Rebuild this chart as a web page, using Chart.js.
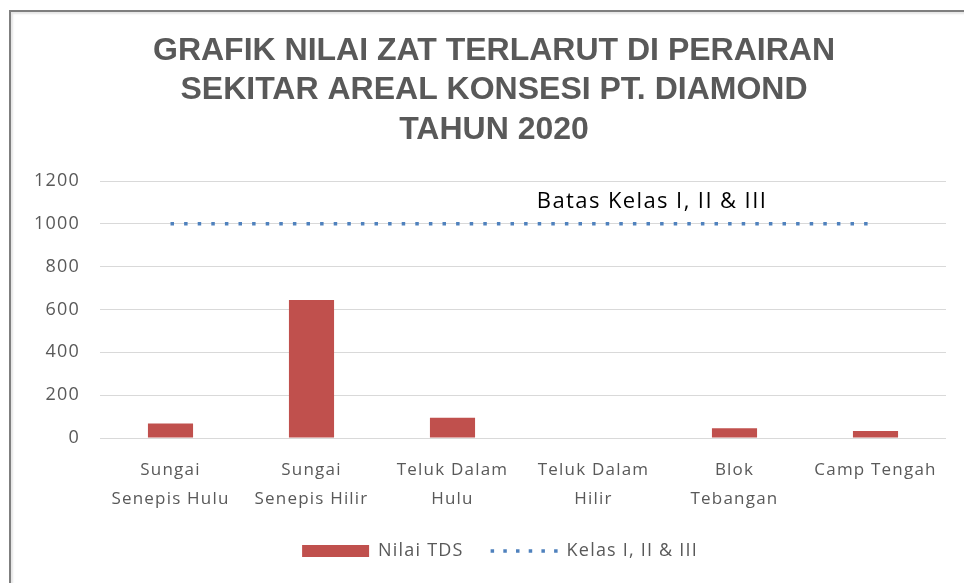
<!DOCTYPE html>
<html>
<head>
<meta charset="utf-8">
<script src="https://cdn.jsdelivr.net/npm/chart.js@4.4.1/dist/chart.umd.min.js"></script>
<style>
  html, body { margin: 0; padding: 0; background: #fff; }
  #wrap { position: relative; width: 964px; height: 583px; overflow: hidden; }
  #frame { position: absolute; left: 9px; top: 10px; width: 980px; height: 600px;
           border-left: 2px solid #7f7f7f; border-top: 2px solid #7f7f7f;
           box-shadow: inset 2px 2px 2px #e6e6e6; pointer-events: none; }
  canvas { position: absolute; left: 0; top: 0; }
</style>
</head>
<body>
<div id="wrap">
  <canvas id="c" width="964" height="583"></canvas>
  <div id="frame"></div>
</div>
<script>
const titleLines = ["GRAFIK NILAI ZAT TERLARUT DI PERAIRAN", "SEKITAR AREAL KONSESI PT. DIAMOND", "TAHUN 2020"];
const categories = [
  ["Sungai", "Senepis Hulu"],
  ["Sungai", "Senepis Hilir"],
  ["Teluk Dalam", "Hulu"],
  ["Teluk Dalam", "Hilir"],
  ["Blok", "Tebangan"],
  "Camp Tengah"
];
const tdsValues = [68, 644, 95, 0, 45, 33];
const limitValues = [1000, 1000, 1000, 1000, 1000, 1000];
const seriesNames = ["Nilai TDS", "Kelas I, II & III"];
const limitLabel = "Batas Kelas I, II & III";
const yTicks = [0, 200, 400, 600, 800, 1000, 1200];

const FONT = "'Open Sans', 'Liberation Sans', sans-serif";
const SPACING = '1.2px';
const DASH = [3.5, 10.1];
const LEGEND_DASH = [3.5, 9.2];

const spacingPlugin = {
  id: 'spacing',
  beforeLayout(chart) { chart.ctx.letterSpacing = SPACING; },
  afterLayout(chart) {
    // centre the legend on the chart frame, which runs past the right edge
    if (chart.legend) chart.legend.left += 54;
  },
  beforeDraw(chart) { chart.ctx.letterSpacing = SPACING; }
};

// Title drawn centred on the chart frame
const titlePlugin = {
  id: 'frameTitle',
  afterDraw(chart) {
    const { ctx } = chart;
    ctx.save();
    ctx.letterSpacing = '0px';
    ctx.font = "bold 32px 'Liberation Sans', Arial, sans-serif";
    ctx.fillStyle = '#595959';
    ctx.textAlign = 'center';
    ctx.textBaseline = 'middle';
    const cx = 494, top = 51, step = 39.5;
    titleLines.forEach((t, i) => ctx.fillText(t, cx, top + i * step));
    ctx.restore();
  }
};

const limitLabelPlugin = {
  id: 'limitLabel',
  afterDatasetsDraw(chart) {
    const { ctx, scales } = chart;
    const x = (scales.x.getPixelForValue(3) + scales.x.getPixelForValue(4)) / 2 - 12;
    const y = scales.y.getPixelForValue(limitValues[0]) - 22;
    ctx.save();
    ctx.letterSpacing = '1.4px';
    ctx.font = "22px " + FONT;
    ctx.fillStyle = "#000";
    ctx.textAlign = "center";
    ctx.textBaseline = "middle";
    ctx.fillText(limitLabel, x, y);
    ctx.restore();
  }
};

new Chart(document.getElementById('c'), {
  type: 'bar',
  data: {
    labels: categories,
    datasets: [
      {
        type: 'bar',
        label: seriesNames[0],
        data: tdsValues,
        backgroundColor: '#c0504d',
        borderWidth: 0,
        barPercentage: 0.32,
        categoryPercentage: 1.0,
        order: 2
      },
      {
        type: 'line',
        label: seriesNames[1],
        data: limitValues,
        borderColor: '#4f81bd',
        backgroundColor: '#4f81bd',
        borderWidth: 3.5,
        borderDash: DASH,
        borderCapStyle: 'butt',
        pointRadius: 0,
        fill: false,
        order: 1
      }
    ]
  },
  options: {
    responsive: false,
    animation: false,
    events: [],
    layout: { padding: { left: 0, right: 18, top: 181, bottom: 13 } },
    plugins: {
      title: { display: false },
      legend: {
        position: 'bottom',
        labels: {
          usePointStyle: true,
          pointStyleWidth: 67,
          boxHeight: 12,
          color: '#595959',
          font: { family: FONT, size: 18 },
          padding: 27,
          generateLabels(chart) {
            const items = Chart.defaults.plugins.legend.labels.generateLabels(chart);
            items.sort((a, b) => a.datasetIndex - b.datasetIndex);
            items.forEach(it => {
              if (it.datasetIndex === 0) {
                it.pointStyle = 'rect'; it.lineWidth = 0; it.fillStyle = '#c0504d';
              } else {
                it.pointStyle = 'line'; it.lineWidth = 3.5; it.lineDash = LEGEND_DASH;
                it.strokeStyle = '#4f81bd'; it.lineCap = 'butt';
              }
            });
            return items;
          }
        }
      },
      tooltip: { enabled: false }
    },
    scales: {
      x: {
        afterFit(scale) { scale.height = 77; },
        grid: { display: false, drawTicks: false },
        border: { display: false },
        ticks: {
          color: '#595959',
          font: { family: FONT, size: 17, lineHeight: 1.75 },
          padding: 17,
          maxRotation: 0,
          autoSkip: false
        }
      },
      y: {
        min: 0,
        max: 1200,
        afterFit(scale) { scale.width = 100; },
        afterBuildTicks(scale) { scale.ticks = yTicks.map(v => ({ value: v })); },
        grid: { color: '#d9d9d9', lineWidth: 1, drawTicks: false },
        border: { display: false },
        ticks: {
          color: '#595959',
          font: { family: FONT, size: 18 },
          padding: 20,
          callback: v => String(v)
        }
      }
    }
  },
  plugins: [spacingPlugin, titlePlugin, limitLabelPlugin]
});
</script>
</body>
</html>
